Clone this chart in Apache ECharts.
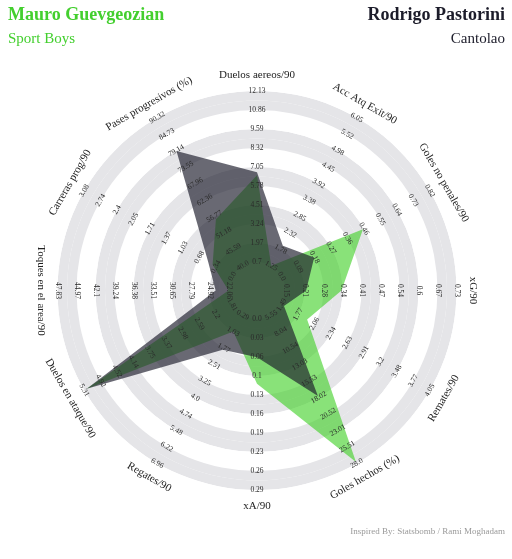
<!DOCTYPE html>
<html><head><meta charset="utf-8">
<script src="https://cdn.jsdelivr.net/npm/echarts@6/dist/echarts.min.js"></script>
<style>html,body{margin:0;padding:0;background:#fff}#c{width:512px;height:559px}</style>
</head><body><div id="c"></div>
<script>
// ---- data ----
const params = ['Duelos aereos/90','Acc Atq Exit/90','Goles no penales/90','xG/90','Remates/90','Goles hechos (%)','xA/90','Regates/90','Duelos en ataque/90','Toques en el area/90','Carreras prog/90','Pases progresivos (%)'];
const ticksDuelosAereos = ['0.7','1.97','3.24','4.51','5.78','7.05','8.32','9.59','10.86','12.13'];
const ticksAccAtq = ['1.25','1.78','2.32','2.85','3.38','3.92','4.45','4.98','5.52','6.05'];
const ticksGolesNoPen = ['0.0','0.09','0.18','0.27','0.36','0.46','0.55','0.64','0.73','0.82'];
const ticksXG = ['0.15','0.21','0.28','0.34','0.41','0.47','0.54','0.6','0.67','0.73'];
const ticksRemates = ['1.49','1.77','2.06','2.34','2.63','2.91','3.2','3.48','3.77','4.05'];
const ticksGolesHechos = ['5.55','8.04','10.54','13.03','15.53','18.02','20.52','23.01','25.51','28.0'];
const ticksXA = ['0.0','0.03','0.06','0.1','0.13','0.16','0.19','0.23','0.26','0.29'];
const ticksRegates = ['0.29','1.03','1.77','2.51','3.25','4.0','4.74','5.48','6.22','6.96'];
const ticksDuelosAtaque = ['1.81','2.2','2.59','2.98','3.37','3.75','4.14','4.52','4.92','5.31'];
const ticksToques = ['22.06','24.92','27.79','30.65','33.51','36.38','39.24','42.1','44.97','47.83'];
const ticksCarreras = ['0.0','0.34','0.68','1.03','1.37','1.71','2.05','2.4','2.74','3.08'];
const ticksPases = ['40.0','45.59','51.18','56.77','62.36','67.96','73.55','79.14','84.73','90.32'];
const tickLabels = [ticksDuelosAereos,ticksAccAtq,ticksGolesNoPen,ticksXG,ticksRemates,ticksGolesHechos,ticksXA,ticksRegates,ticksDuelosAtaque,ticksToques,ticksCarreras,ticksPases];

const mauroValues   = [6.5, 1.25, 0.45, 0.34, 1.93, 27.8, 0.11, 1.03, 5.25, 22.06, 0.41, 55.8];
const rodrigoValues = [6.7, 1.9, 0.18, 0.22, 1.53, 17.8, 0.065, 1.85, 5.25, 24.0, 0.5, 79.0];

// ---- layout/style ----
const GREEN = '#43cf2e';
const DARK = '#1c1c2a';
const FONT = '"Liberation Serif", "Times New Roman", serif';
const N = params.length;
const R_IN = 3, R_STEP = 2, R_LABEL = 22.7, R_MAX = 24, UNIT_PX = 9.5;

function toRadius(i, v) {
  const lo = parseFloat(tickLabels[i][0]), hi = parseFloat(tickLabels[i][tickLabels[i].length - 1]);
  let t = (v - lo) / (hi - lo);
  t = Math.max(0, Math.min(1, t));
  return R_IN + t * R_STEP * (tickLabels[i].length - 1);
}
function angleOf(i) { return i * 360 / N; }
function rotFor(theta) {
  let cw;
  if (theta <= 90) cw = theta; else if (theta <= 270) cw = theta - 180; else cw = theta - 360;
  return -cw * Math.PI / 180;
}
const bandColors = [];
for (let k = 0; k < R_MAX; k++) {
  const grey = (k >= R_IN) && (k < R_IN + 18) && (Math.floor((k - R_IN) / 2) % 2 === 0);
  bandColors.push(grey ? '#e5e5e8' : '#ffffff');
}

function polygonSeries(values, fill, z) {
  return {
    type: 'custom', coordinateSystem: 'polar', z: z, silent: true, data: [[0, 0]],
    renderItem: function (p, api) {
      const pts = values.map((v, i) => api.coord([toRadius(i, v), angleOf(i)]));
      return { type: 'polygon', shape: { points: pts }, style: { fill: fill } };
    }
  };
}

const chart = echarts.init(document.getElementById('c'));
chart.setOption({
  backgroundColor: '#ffffff',
  animation: false,
  title: [
    { text: 'Mauro Guevgeozian', left: 8, top: 6, padding: 0, textStyle: { fontFamily: FONT, fontSize: 18, fontWeight: 'bold', color: GREEN } },
    { text: 'Sport Boys', left: 8, top: 32, padding: 0, textStyle: { fontFamily: FONT, fontSize: 15, fontWeight: 'normal', color: GREEN } },
    { text: 'Rodrigo Pastorini', right: 7, top: 6, padding: 0, textStyle: { fontFamily: FONT, fontSize: 18, fontWeight: 'bold', color: DARK } },
    { text: 'Cantolao', right: 7, top: 32, padding: 0, textStyle: { fontFamily: FONT, fontSize: 15, fontWeight: 'normal', color: DARK } },
    { text: 'Inspired By: Statsbomb / Rami Moghadam', right: 7, top: 527, padding: 0, textStyle: { fontFamily: FONT, fontSize: 9, fontWeight: 'normal', color: '#9a9a9a' } }
  ],
  polar: { center: [257, 290.5], radius: R_MAX * UNIT_PX },
  angleAxis: { type: 'value', min: 0, max: 360, startAngle: 90, clockwise: true, show: false },
  radiusAxis: {
    type: 'value', min: 0, max: R_MAX, interval: 1,
    axisLine: { show: false }, axisTick: { show: false }, axisLabel: { show: false }, splitLine: { show: false },
    splitArea: { show: true, areaStyle: { color: bandColors } }
  },
  series: [
    polygonSeries(mauroValues, 'rgba(58,207,32,0.6)', 2),
    polygonSeries(rodrigoValues, 'rgba(28,28,42,0.66)', 3),
    {
      type: 'custom', coordinateSystem: 'polar', z: 5, silent: true, data: [[0, 0]],
      renderItem: function (p, api) {
        const children = [];
        params.forEach((name, i) => {
          const th = angleOf(i), rot = rotFor(th);
          tickLabels[i].forEach((lab, k) => {
            const c = api.coord([R_IN + R_STEP * k, th]);
            children.push({ type: 'text', x: c[0], y: c[1], rotation: rot,
              style: { text: lab, fill: '#2a2a2a', font: '7.5px ' + FONT, align: 'center', verticalAlign: 'middle' } });
          });
          const c = api.coord([R_LABEL, th]);
          children.push({ type: 'text', x: c[0], y: c[1], rotation: rot,
            style: { text: name, fill: '#222222', font: '11px ' + FONT, align: 'center', verticalAlign: 'middle' } });
        });
        return { type: 'group', children: children };
      }
    }
  ]
});
</script></body></html>
